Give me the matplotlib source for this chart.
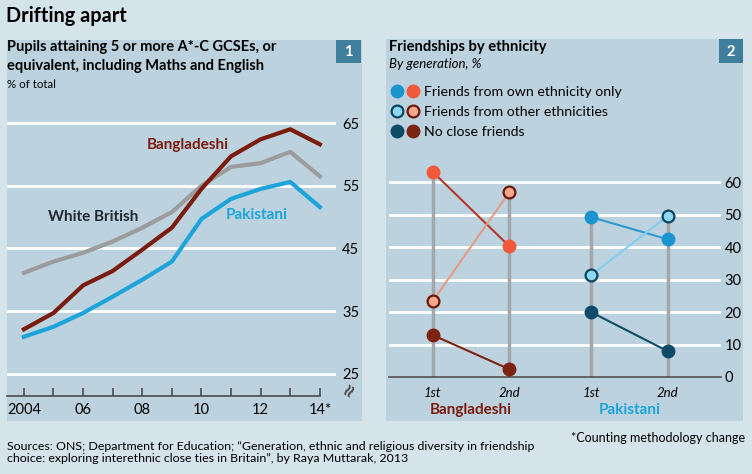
import matplotlib
matplotlib.use('Agg')
import matplotlib.pyplot as plt
from matplotlib.patches import Rectangle
from matplotlib.lines import Line2D
from matplotlib.legend_handler import HandlerTuple

plt.rcParams['font.family'] = ['Lato', 'DejaVu Sans']

# GCSE results, % of total
years = [2004, 2005, 2006, 2007, 2008, 2009, 2010, 2011, 2012, 2013, 2014]
white_british = [41.1, 42.9, 44.3, 46.1, 48.3, 50.8, 55.0, 58.0, 58.6, 60.4, 56.5]
bangladeshi = [32.1, 34.7, 39.1, 41.4, 44.8, 48.3, 54.5, 59.7, 62.4, 64.0, 61.6]
pakistani = [30.9, 32.5, 34.7, 37.3, 40.0, 42.9, 49.7, 52.9, 54.5, 55.6, 51.6]
year_labels = ['2004', '06', '08', '10', '12', '14*']

# friendships by generation, %
generations = ['1st', '2nd']
bang_own = [63.2, 40.3]
bang_other = [23.5, 57.0]
bang_none = [12.9, 2.4]
pak_own = [49.3, 42.5]
pak_other = [31.4, 49.6]
pak_none = [20.0, 8.0]

W, H = 752, 474
BG = '#d5e3eb'
PANEL = '#bcd2de'
BOX = '#3f7f9d'
GRID = 'white'
AXIS = '#4d4d4d'


def px_box(x0, y0, x1, y1):
    return [x0 / W, 1 - y1 / H, (x1 - x0) / W, (y1 - y0) / H]


def fig_text(x, y, s, **kw):
    fig.text(x / W, 1 - y / H, s, **kw)


fig = plt.figure(figsize=(W / 100, H / 100), dpi=100, facecolor=BG)

# panel backgrounds and number boxes
for x0, y0, x1, y1 in [(7, 40, 362, 421), (386, 39, 743, 421)]:
    fig.patches.append(Rectangle((x0 / W, 1 - y1 / H), (x1 - x0) / W, (y1 - y0) / H,
                                 transform=fig.transFigure, facecolor=PANEL, edgecolor='none', zorder=-2))
for x0, y0, x1, y1, n in [(336, 40, 361, 63, '1'), (719, 39, 743, 63, '2')]:
    fig.patches.append(Rectangle((x0 / W, 1 - y1 / H), (x1 - x0) / W, (y1 - y0) / H,
                                 transform=fig.transFigure, facecolor=BOX, edgecolor='none', zorder=-1))
    fig_text((x0 + x1) / 2, (y0 + y1) / 2 + 1, n, color='white', fontsize=10.5, fontweight='bold',
             ha='center', va='center')

# titles
fig_text(6, 16, 'Drifting apart', fontsize=14.3, fontweight='bold', color='black', va='center')
fig_text(7, 47, 'Pupils attaining 5 or more A*-C GCSEs, or', fontsize=10.5, fontweight='bold', va='center')
fig_text(7, 66, 'equivalent, including Maths and English', fontsize=10.5, fontweight='bold', va='center')
fig_text(7, 85, '% of total', fontsize=8.3, va='center')
fig_text(389, 47, 'Friendships by ethnicity', fontsize=10.6, fontweight='bold', va='center')
fig_text(389, 64, 'By generation, %', fontsize=9.5, style='italic', va='center')

# ---- left chart
ax1 = fig.add_axes(px_box(7, 100, 336, 396))
ax1.set_facecolor('none')
ax1.set_xlim(2003.43, 2014.545)
ax1.set_ylim(21.46, 68.67)
ax1.set_yticks([25, 35, 45, 55, 65])
ax1.yaxis.tick_right()
ax1.grid(axis='y', color=GRID, lw=2)
ax1.set_axisbelow(True)
ax1.tick_params(axis='y', length=0, pad=4.5, labelsize=10.5)
ax1.set_xticks(years[::2])
ax1.set_xticklabels(year_labels)
ax1.set_xticks(years[1::2], minor=True)
ax1.tick_params(axis='x', which='both', direction='in', length=6, width=1.2, color=AXIS, pad=5, labelsize=10.5)
for s in ['top', 'left', 'right']:
    ax1.spines[s].set_visible(False)
ax1.spines['bottom'].set_color(AXIS)
ax1.spines['bottom'].set_linewidth(1.2)
ax1.spines['bottom'].set_bounds(2003.43, 2014)

ax1.plot(years, white_british, color='#9c9c9c', lw=3)
ax1.plot(years, pakistani, color='#1da4db', lw=3)
ax1.plot(years, bangladeshi, color='#7a1c0e', lw=3)

ax1.text(2009.55, 61.5, 'Bangladeshi', color='#7a1c0e', fontsize=11, fontweight='bold', ha='center', va='center')
ax1.text(2006.33, 50.0, 'White British', color='#1f2a30', fontsize=11, fontweight='bold', ha='center', va='center')
ax1.text(2011.88, 50.3, 'Pakistani', color='#1da4db', fontsize=11, fontweight='bold', ha='center', va='center')
# axis break mark
fig_text(349, 390, '≈', rotation=60, fontsize=13, fontweight='bold', color=AXIS,
         ha='center', va='center', family='DejaVu Sans')

# ---- right chart
ax2 = fig.add_axes(px_box(389, 150, 721, 377))
ax2.set_facecolor('none')
ax2.set_xlim(-0.575, 3.77)
ax2.set_ylim(0, 70)
ax2.set_yticks(range(0, 70, 10))
ax2.yaxis.tick_right()
ax2.grid(axis='y', color=GRID, lw=2)
ax2.set_axisbelow(True)
ax2.tick_params(axis='y', length=0, pad=2.5, labelsize=10.5)
for s in ['top', 'left', 'right']:
    ax2.spines[s].set_visible(False)
ax2.spines['bottom'].set_color(AXIS)
ax2.spines['bottom'].set_linewidth(1.2)
ax2.spines['bottom'].set_zorder(3)

groups = [
    ('Bangladeshi', 0.0, bang_own, bang_other, bang_none,
     '#f05a3a', '#b5372a', '#f5a88c', '#e39b85', '#6a180c', '#7c2312', '#7c2312'),
    ('Pakistani', 2.07, pak_own, pak_other, pak_none,
     '#1b95cf', '#2f9ad0', '#8ed8f3', '#7fcfee', '#0b4660', '#0d4b68', '#0d4b68'),
]
xt, xl = [], []
for name, off, own, other, none, c_own, l_own, c_oth, l_oth, e_oth, c_none, l_none in groups:
    xs = [off, off + 1]
    for i, x in enumerate(xs):
        ax2.vlines(x, 0, max(own[i], other[i], none[i]), color='#a3a7aa', lw=2.5, zorder=2)
    ax2.plot(xs, own, color=l_own, lw=1.5, zorder=3)
    ax2.plot(xs, other, color=l_oth, lw=1.5, zorder=3)
    ax2.plot(xs, none, color=l_none, lw=1.5, zorder=3)
    ax2.plot(xs, own, 'o', ms=9, color=c_own, mec=c_own, zorder=4, clip_on=False)
    ax2.plot(xs, other, 'o', ms=8.5, color=c_oth, mec=e_oth, mew=1.6, zorder=4, clip_on=False)
    ax2.plot(xs, none, 'o', ms=9, color=c_none, mec=c_none, zorder=4, clip_on=False)
    xt += xs
    xl += generations
    gcol = '#7a1c0e' if name == 'Bangladeshi' else '#1da4db'
    ax2.annotate(name, xy=(off + 0.5, 0), xycoords=('data', 'axes fraction'), xytext=(0, -24),
                 textcoords='offset points', ha='center', va='center', color=gcol,
                 fontsize=11, fontweight='bold')
ax2.set_xticks(xt)
ax2.set_xticklabels(xl, style='italic')
ax2.tick_params(axis='x', length=0, pad=7, labelsize=9.5)

# legend
handles = [
    (Line2D([], [], marker='o', ls='', ms=9, color='#1b95cf'),
     Line2D([], [], marker='o', ls='', ms=9, color='#f05a3a')),
    (Line2D([], [], marker='o', ls='', ms=8.5, color='#8ed8f3', mec='#0b4660', mew=1.6),
     Line2D([], [], marker='o', ls='', ms=8.5, color='#f5a88c', mec='#6a180c', mew=1.6)),
    (Line2D([], [], marker='o', ls='', ms=9, color='#0d4b68'),
     Line2D([], [], marker='o', ls='', ms=9, color='#7c2312')),
]
labels = ['Friends from own ethnicity only', 'Friends from other ethnicities', 'No close friends']
fig.legend(handles, labels, handler_map={tuple: HandlerTuple(ndivide=None, pad=0.2)},
           loc='upper left', bbox_to_anchor=(391 / W, 1 - 86 / H), frameon=False,
           fontsize=10.2, handlelength=2.0, handletextpad=0.3, labelspacing=0.55,
           borderaxespad=0, borderpad=0)

# footnotes
fig_text(7, 446, 'Sources: ONS; Department for Education; \u201cGeneration, ethnic and religious diversity in friendship',
         fontsize=8.9, va='center')
fig_text(7, 459, 'choice: exploring interethnic close ties in Britain\u201d, by Raya Muttarak, 2013',
         fontsize=8.9, va='center')
fig_text(745, 438, '*Counting methodology change', fontsize=9, va='center', ha='right')

fig.savefig('out.png', dpi=100, facecolor=BG)
